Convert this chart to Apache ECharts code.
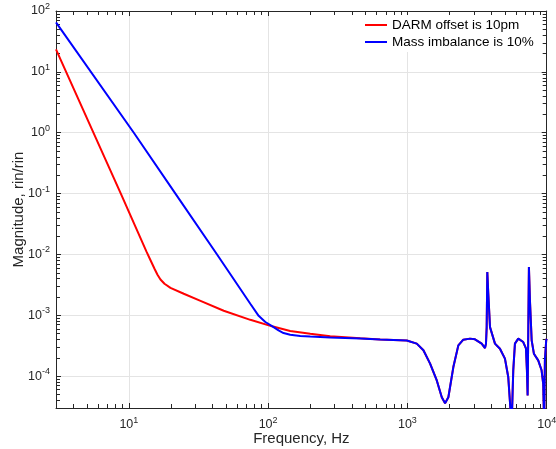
<!DOCTYPE html>
<html><head><meta charset="utf-8">
<script src="https://cdn.jsdelivr.net/npm/echarts@6/dist/echarts.min.js"></script>
<style>html,body{margin:0;padding:0;background:#fff}#c{width:556px;height:449px}</style>
</head><body><div id="c"></div>
<script>
// ---- data ----
const xMajorTicks = [10, 100, 1000, 10000];
const yMajorTicks = [1e-4, 1e-3, 1e-2, 1e-1, 1, 10, 100];
const seriesNames = ['DARM offset is 10pm', 'Mass imbalance is 10%'];

// DARM offset (red) low-frequency part
const darmFreq = [3, 8.76, 13.39, 14.31, 15.29, 16.06, 16.87, 18.03, 19.9, 24.8, 32.7, 48, 74.5, 106.7, 144, 200.7, 279, 458];
const darmMag  = [23.4, 0.1, 0.0111, 8.03e-3, 5.82e-3, 4.64e-3, 3.87e-3, 3.30e-3, 2.83e-3, 2.26e-3, 1.73e-3, 1.19e-3, 8.43e-4, 6.59e-4, 5.52e-4, 4.97e-4, 4.52e-4, 4.19e-4];

// Mass imbalance (blue) low-frequency part
const massFreq = [3, 10.86, 21.6, 43.0, 74.5, 85.5, 95.5, 106.7, 118.8, 129, 144, 170, 200.7, 279, 458];
const massMag  = [65.2, 1.0, 0.1, 0.01, 1.55e-3, 9.8e-4, 7.76e-4, 6.65e-4, 5.66e-4, 5.12e-4, 4.78e-4, 4.57e-4, 4.47e-4, 4.30e-4, 4.14e-4];

// common high-frequency part (both curves coincide)
const tailFreq = [637, 990, 1167, 1303, 1455, 1625, 1765, 1864, 1968, 2137, 2321, 2519, 2813, 3055, 3414, 3606, 3665, 3708, 3746, 3807, 3917, 4253, 4618, 5014, 5296, 5600, 5754, 5915, 6250, 6785, 7096, 7211, 7295, 7454, 7580, 7799, 8093, 8690, 9189, 9441, 9590, 9707, 9917, 10000];
const tailMag  = [4.0e-4, 3.86e-4, 3.43e-4, 2.66e-4, 1.61e-4, 8.5e-5, 4.5e-5, 3.6e-5, 4.5e-5, 1.41e-4, 3.21e-4, 3.98e-4, 4.14e-4, 4.03e-4, 3.43e-4, 2.9e-4, 3.43e-4, 6.4e-4, 5.15e-3, 2.28e-3, 6.4e-4, 3.43e-4, 2.83e-4, 1.94e-4, 9.7e-5, 1.5e-5, 1.25e-4, 3.43e-4, 4.14e-4, 3.64e-4, 2.86e-4, 1.25e-4, 4.8e-5, 6.2e-3, 1.77e-3, 3.88e-4, 2.34e-4, 1.82e-4, 1.25e-4, 7.5e-5, 1.5e-5, 1.82e-4, 3.88e-4, 4.1e-4];

// minor tick values
const xMinorTicks = [4, 5, 6, 7, 8, 9, 20, 30, 40, 50, 60, 70, 80, 90, 200, 300, 400, 500, 600, 700, 800, 900, 2000, 3000, 4000, 5000, 6000, 7000, 8000, 9000];
const yMinorTicks = [4e-5, 5e-5, 6e-5, 7e-5, 8e-5, 9e-5, 2e-4, 3e-4, 4e-4, 5e-4, 6e-4, 7e-4, 8e-4, 9e-4, 2e-3, 3e-3, 4e-3, 5e-3, 6e-3, 7e-3, 8e-3, 9e-3, 0.02, 0.03, 0.04, 0.05, 0.06, 0.07, 0.08, 0.09, 0.2, 0.3, 0.4, 0.5, 0.6, 0.7, 0.8, 0.9, 2, 3, 4, 5, 6, 7, 8, 9, 20, 30, 40, 50, 60, 70, 80, 90];

// ---- build ----
const FONT = '"Liberation Sans", Arial, Helvetica, sans-serif';
const AX = '#262626';
const GRIDC = '#e4e4e4';
function pairs(f, m) { return f.map((v, i) => [v, m[i]]); }
const darmData = pairs(darmFreq, darmMag).concat(pairs(tailFreq, tailMag));
const massData = pairs(massFreq, massMag).concat(pairs(tailFreq, tailMag));
const xMin = 3, xMax = 10000, yMin = 3e-5, yMax = 100;

const rich = {
  b: { fontSize: 12.5, color: AX, fontFamily: FONT, lineHeight: 18 },
  s: { fontSize: 9, color: AX, fontFamily: FONT, lineHeight: 10, verticalAlign: 'top' }
};
function fmtPow(v) {
  const e = Math.log10(v);
  if (Math.abs(e - Math.round(e)) > 1e-6) return '';
  return '{b|10}{s|' + Math.round(e) + '}';
}

function mainAxis(isX) {
  return {
    gridIndex: 0,
    type: 'log', logBase: 10,
    min: isX ? xMin : yMin, max: isX ? xMax : yMax,
    position: isX ? 'bottom' : 'left',
    axisLine: { show: true, onZero: false, lineStyle: { color: AX, width: 1 } },
    axisTick: { show: true, inside: true, length: 5, customValues: isX ? xMajorTicks : yMajorTicks, lineStyle: { color: AX, width: 1 } },
    axisLabel: { show: true, customValues: isX ? xMajorTicks : yMajorTicks, formatter: fmtPow, rich: rich,
                 margin: isX ? 8 : 6, color: AX, fontFamily: FONT },
    splitLine: { show: true, lineStyle: { color: GRIDC, width: 1 } },
    name: isX ? 'Frequency, Hz' : 'Magnitude, rin/rin',
    nameLocation: 'middle',
    nameMoveOverlap: false,
    nameGap: isX ? 23 : 30,
    nameTextStyle: { fontSize: 15, color: AX, fontFamily: FONT }
  };
}
function tickAxis(isX, pos, vals, len, line) {
  return {
    gridIndex: 0,
    type: 'log', logBase: 10,
    min: isX ? xMin : yMin, max: isX ? xMax : yMax,
    position: pos,
    axisLine: { show: line, lineStyle: { color: AX, width: 1 } },
    axisTick: { show: true, inside: true, length: len, customValues: vals, lineStyle: { color: AX, width: 1 } },
    axisLabel: { show: false },
    splitLine: { show: false }
  };
}

const xAxes = [
  mainAxis(true),
  tickAxis(true, 'bottom', xMinorTicks, 4, false),
  tickAxis(true, 'top', xMajorTicks, 5, true),
  tickAxis(true, 'top', xMinorTicks, 4, false)
];
const yAxes = [
  mainAxis(false),
  tickAxis(false, 'left', yMinorTicks, 4, false),
  tickAxis(false, 'right', yMajorTicks, 5, true),
  tickAxis(false, 'right', yMinorTicks, 4, false)
];

const chart = echarts.init(document.getElementById('c'), null, { renderer: 'canvas' });
chart.setOption({
  animation: false,
  backgroundColor: '#ffffff',
  grid: { left: 56, top: 11, right: 9.3, bottom: 41,
          outerBounds: { left: 0, top: 0, width: 900, height: 900 } },
  legend: {
    orient: 'vertical', left: 359, top: 15,
    padding: [3, 6, 3, 6], itemGap: 3,
    backgroundColor: '#ffffff',
    icon: 'rect', itemWidth: 22, itemHeight: 2,
    textStyle: { fontSize: 13.5, color: '#000', fontFamily: FONT },
    data: seriesNames
  },
  xAxis: xAxes,
  yAxis: yAxes,
  series: [
    { name: seriesNames[0], type: 'line', data: darmData, xAxisIndex: 0, yAxisIndex: 0,
      showSymbol: false, symbol: 'none', clip: true, color: '#ff0000',
      lineStyle: { color: '#ff0000', width: 2 } },
    { name: seriesNames[1], type: 'line', data: massData, xAxisIndex: 0, yAxisIndex: 0,
      showSymbol: false, symbol: 'none', clip: true, color: '#0000ff',
      lineStyle: { color: '#0000ff', width: 2 } }
  ]
});
</script></body></html>
